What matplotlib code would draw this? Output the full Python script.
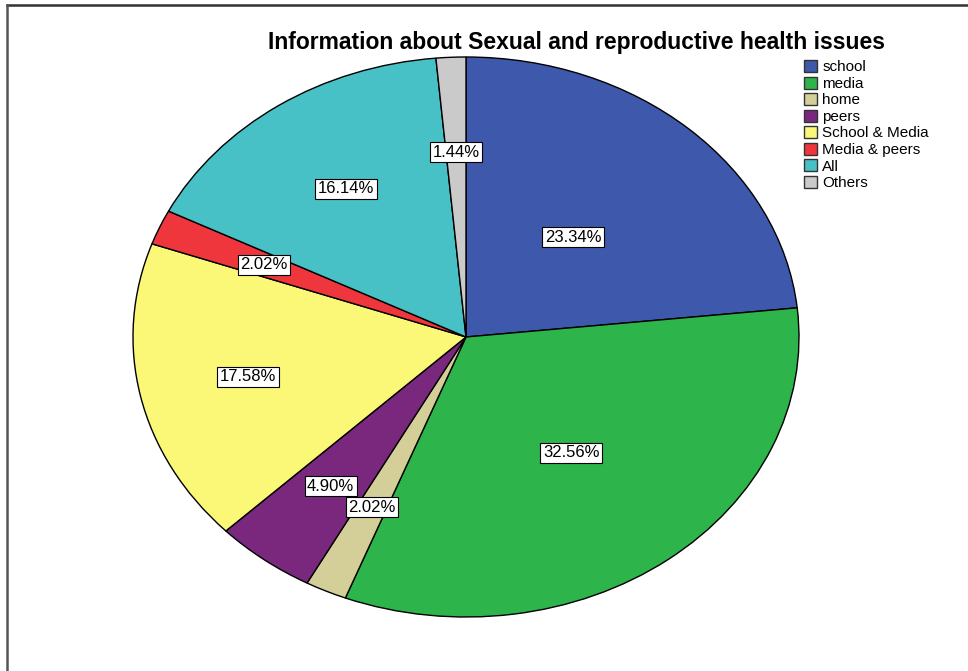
import numpy as np
import matplotlib
matplotlib.use("Agg")
import matplotlib.pyplot as plt
from matplotlib.patches import Patch
from matplotlib.lines import Line2D

plt.rcParams["font.family"] = ["Liberation Sans", "DejaVu Sans"]

# ------------------ data ------------------
categories = ["school", "media", "home", "peers", "School & Media",
              "Media & peers", "All", "Others"]
shares = [23.34, 32.56, 2.02, 4.90, 17.58, 2.02, 16.14, 1.44]
colors = ["#3E58AC", "#2DB44A", "#D4CF98", "#7A287E", "#FBF777",
          "#EF363C", "#48C1C6", "#CACACA"]
# how far out (as share of radius) each percent box sits
label_r = [0.48, 0.52, 0.67, 0.67, 0.67, 0.66, 0.64, 0.66]

W, H = 968, 671
fig = plt.figure(figsize=(W / 100, H / 100), dpi=100)

# pie is stretched into an ellipse like the SPSS output
cx, cy, rx, ry = 466, 337, 333, 280
ax = fig.add_axes([(cx - rx) / W, (H - cy - ry) / H, 2 * rx / W, 2 * ry / H])
wedges, _ = ax.pie(shares, colors=colors, startangle=90, counterclock=False,
                   radius=1.0,
                   wedgeprops=dict(edgecolor="black", linewidth=1.0))
ax.set_aspect("auto")
ax.set_xlim(-1, 1)
ax.set_ylim(-1, 1)
ax.axis("off")

for w, v, r in zip(wedges, shares, label_r):
    ang = np.deg2rad((w.theta1 + w.theta2) / 2)
    ax.text(r * np.cos(ang), r * np.sin(ang), f"{v:.2f}%",
            ha="center", va="center", fontsize=12, color="black",
            bbox=dict(boxstyle="square,pad=0.15", facecolor="white",
                      edgecolor="black", linewidth=0.8))

fig.text(576 / W, 1 - 43 / H,
         "Information about Sexual and reproductive health issues",
         ha="center", va="center", fontsize=16.5, fontweight="bold")

handles = [Patch(facecolor=c, edgecolor="#333333", linewidth=1.0) for c in colors]
fig.legend(handles, categories, loc="upper left",
           bbox_to_anchor=(804 / W, 1 - 60 / H), frameon=False,
           fontsize=11, handlelength=0.85, handleheight=0.85,
           handletextpad=0.35, labelspacing=0.14, borderaxespad=0,
           borderpad=0)

# frame lines on top and left like the screenshot
fig.add_artist(Line2D([7 / W, 1], [1 - 5 / H, 1 - 5 / H], color="#333333",
                      linewidth=1.8, transform=fig.transFigure))
fig.add_artist(Line2D([7 / W, 7 / W], [0, 1 - 5 / H], color="#555555",
                      linewidth=1.8, transform=fig.transFigure))

fig.savefig("out.png", dpi=100)
